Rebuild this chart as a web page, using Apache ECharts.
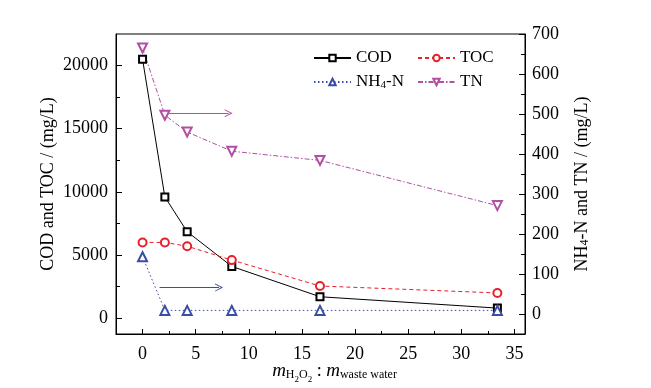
<!DOCTYPE html>
<html>
<head>
<meta charset="utf-8">
<script src="https://cdn.jsdelivr.net/npm/echarts@6/dist/echarts.min.js"></script>
<style>html,body{margin:0;padding:0;background:#fff}#c{width:651px;height:388px}</style>
</head>
<body>
<div id="c"></div>
<script>
const xValues = [0, 2.1, 4.2, 8.4, 16.7, 33.4];
const cod = [20500, 9600, 6850, 4100, 1700, 800];
const toc = [6000, 6000, 5700, 4600, 2550, 2000];
const nh4 = [143, 9, 9, 9, 9, 9];
const tn = [665, 497, 455, 407, 384, 271];
const xTicks = [0, 5, 10, 15, 20, 25, 30, 35];
const xMinor = [2.5, 7.5, 12.5, 17.5, 22.5, 27.5, 32.5];
const leftTicks = [0, 5000, 10000, 15000, 20000];
const leftMinor = [2500, 7500, 12500, 17500];
const rightTicks = [0, 100, 200, 300, 400, 500, 600, 700];
const rightMinor = [50, 150, 250, 350, 450, 550, 650];
const nh4Arrow = [[1.6, 66], [7.2, 66]];
const tnArrow = [[2.5, 502], [8.1, 502]];

const FF = '"Liberation Serif", "Times New Roman", serif';
const C_COD = '#000000', C_TOC = '#e8202a', C_NH4 = '#3a4ca6', C_TN = '#b04fa3';
const chevron = 'path://M0,10 L5,0 L10,10 L8.8,10 L5,2.6 L1.2,10 Z';
const pts = (arr) => xValues.map((x, i) => [x, arr[i]]);
const minorAxisX = (vals) => ({
  type: 'value', min: -2.5, max: 36, position: 'bottom',
  axisLine: { show: false, onZero: false }, axisLabel: { show: false }, splitLine: { show: false },
  axisTick: { show: true, inside: true, length: 3, customValues: vals, lineStyle: { color: '#000' } }
});
const minorAxisY = (pos, min, max, vals) => ({
  type: 'value', min: min, max: max, position: pos,
  axisLine: { show: false, onZero: false }, axisLabel: { show: false }, splitLine: { show: false },
  axisTick: { show: true, inside: true, length: 4, customValues: vals, lineStyle: { color: '#000' } }
});
const labelStyle = { color: '#000', fontSize: 18, fontFamily: FF, formatter: v => String(v) };

const chart = echarts.init(document.getElementById('c'), null, { renderer: 'canvas' });
chart.setOption({
  animation: false,
  backgroundColor: '#fff',
  grid: { left: 116, right: 126, top: 34, bottom: 54, show: true, borderColor: '#000', borderWidth: 1,
    containLabel: false, outerBoundsMode: 'none' },
  legend: [
    {
      data: ['COD', 'NH4-N'], orient: 'vertical', left: 313, top: 49, padding: 0,
      itemWidth: 37, itemHeight: 8, itemGap: 6, itemTextGap: 3,
      formatter: n => n === 'NH4-N' ? 'NH{s|4}-N' : n,
      textStyle: { color: '#000', fontSize: 17, fontFamily: FF, lineHeight: 18,
        rich: { s: { fontSize: 11, fontFamily: FF, color: '#000', verticalAlign: 'bottom', lineHeight: 18 } } }
    },
    {
      data: ['TOC', 'TN'], orient: 'vertical', left: 417, top: 49, padding: 0,
      itemWidth: 37, itemHeight: 8, itemGap: 6, itemTextGap: 3,
      textStyle: { color: '#000', fontSize: 17, fontFamily: FF, lineHeight: 18 }
    }
  ],
  xAxis: [
    {
      type: 'value', min: -2.5, max: 36, position: 'bottom',
      axisLine: { onZero: false, lineStyle: { color: '#000', width: 1 } },
      axisTick: { show: true, inside: true, length: 5, customValues: xTicks, lineStyle: { color: '#000' } },
      axisLabel: Object.assign({ customValues: xTicks, margin: 11 }, labelStyle),
      splitLine: { show: false },
      name: '{i|m}{a|H}{b|2}{a|O}{b|2}{t| : }{i|m}{a|waste water}',
      nameLocation: 'middle', nameGap: 26, nameMoveOverlap: false,
      nameTextStyle: {
        color: '#000', fontFamily: FF, padding: [0, 0, 0, 28],
        rich: {
          i: { fontSize: 19, fontStyle: 'italic', fontFamily: FF, color: '#000', lineHeight: 22 },
          t: { fontSize: 18, fontFamily: FF, color: '#000', lineHeight: 22 },
          a: { fontSize: 12, fontFamily: FF, color: '#000', verticalAlign: 'bottom', lineHeight: 12, padding: [0, 0, 1, 0] },
          b: { fontSize: 9, fontFamily: FF, color: '#000', verticalAlign: 'bottom', lineHeight: 9, padding: [0, 0, -2, 0] }
        }
      }
    },
    minorAxisX(xMinor)
  ],
  yAxis: [
    {
      type: 'value', min: -1250, max: 22500, position: 'left',
      axisLine: { show: true, onZero: false, lineStyle: { color: '#000', width: 1 } },
      axisTick: { show: true, inside: true, length: 6, customValues: leftTicks, lineStyle: { color: '#000' } },
      axisLabel: Object.assign({ customValues: leftTicks, margin: 8 }, labelStyle),
      splitLine: { show: false },
      name: 'COD and TOC / (mg/L)', nameLocation: 'middle', nameGap: 59, nameMoveOverlap: false,
      nameTextStyle: { color: '#000', fontSize: 18, fontFamily: FF }
    },
    {
      type: 'value', min: -50, max: 700, position: 'right',
      axisLine: { show: true, onZero: false, lineStyle: { color: '#000', width: 1 } },
      axisTick: { show: true, inside: true, length: 6, customValues: rightTicks, lineStyle: { color: '#000' } },
      axisLabel: Object.assign({ customValues: rightTicks, margin: 7 }, labelStyle),
      splitLine: { show: false },
      name: 'NH{s|4}-N and TN / (mg/L)', nameLocation: 'middle', nameGap: 48, nameMoveOverlap: false,
      nameTextStyle: { color: '#000', fontSize: 18, fontFamily: FF,
        rich: { s: { fontSize: 12, fontFamily: FF, color: '#000', verticalAlign: 'bottom', lineHeight: 14 } } }
    },
    minorAxisY('left', -1250, 22500, leftMinor),
    minorAxisY('right', -50, 700, rightMinor)
  ],
  series: [
    {
      name: 'COD', type: 'line', xAxisIndex: 0, yAxisIndex: 0, data: pts(cod),
      symbol: 'emptyRect', symbolSize: 7,
      lineStyle: { color: C_COD, width: 1, type: 'solid' },
      itemStyle: { color: C_COD, borderWidth: 1 }
    },
    {
      name: 'TOC', type: 'line', xAxisIndex: 0, yAxisIndex: 0, data: pts(toc),
      symbol: 'emptyCircle', symbolSize: 8,
      lineStyle: { color: C_TOC, width: 1, type: [4, 3] },
      itemStyle: { color: C_TOC, borderWidth: 1 }
    },
    {
      name: 'NH4-N', type: 'line', xAxisIndex: 0, yAxisIndex: 1, data: pts(nh4),
      symbol: 'emptyTriangle', symbolSize: 9,
      lineStyle: { color: C_NH4, width: 1, type: [1.5, 2.5] },
      itemStyle: { color: C_NH4, borderWidth: 1 },
      markLine: {
        silent: true, animation: false, symbol: ['none', chevron], symbolSize: [8, 8],
        label: { show: false },
        lineStyle: { color: C_NH4, width: 1, type: 'solid' },
        data: [[{ coord: nh4Arrow[0] }, { coord: nh4Arrow[1] }]]
      }
    },
    {
      name: 'TN', type: 'line', xAxisIndex: 0, yAxisIndex: 1, data: pts(tn),
      symbol: 'emptyTriangle', symbolRotate: 180, symbolSize: 9,
      lineStyle: { color: C_TN, width: 1, type: [5, 2, 1.5, 2] },
      itemStyle: { color: C_TN, borderWidth: 1 },
      markLine: {
        silent: true, animation: false, symbol: ['none', chevron], symbolSize: [8, 8],
        label: { show: false },
        lineStyle: { color: C_TN, width: 1, type: 'solid' },
        data: [[{ coord: tnArrow[0] }, { coord: tnArrow[1] }]]
      }
    }
  ]
});
</script>
</body>
</html>
